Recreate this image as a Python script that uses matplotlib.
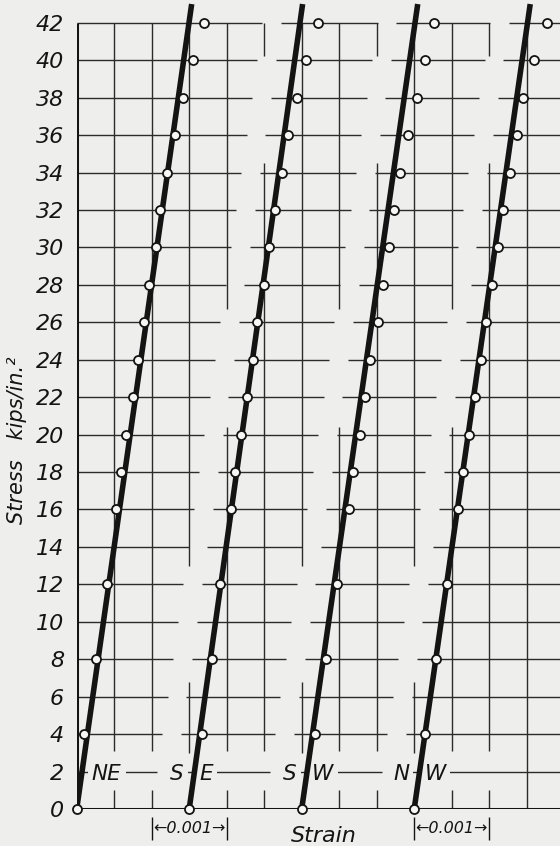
import matplotlib
matplotlib.use('Agg')
import matplotlib.pyplot as plt

# stress levels where readings were taken (kips/in.^2), same for all gauges
stress = [0, 4, 8, 12, 16, 18, 20, 22, 24, 26, 28, 30, 32, 34, 36, 38, 40, 42]

# strain readings, in units of 0.001, each gauge measured from its own zero
strain_ne = [0, 0.101, 0.253, 0.400, 0.524, 0.591, 0.657, 0.747, 0.822, 0.897,
             0.960, 1.057, 1.111, 1.208, 1.311, 1.422, 1.547, 1.701]
strain_se = [0, 0.165, 0.303, 0.413, 0.552, 0.609, 0.685, 0.765, 0.853, 0.907,
             0.996, 1.067, 1.143, 1.232, 1.320, 1.432, 1.552, 1.720]
strain_sw = [0, 0.178, 0.325, 0.472, 0.632, 0.685, 0.783, 0.840, 0.916, 1.019,
             1.080, 1.160, 1.236, 1.316, 1.413, 1.539, 1.649, 1.760]
strain_nw = [0, 0.147, 0.289, 0.436, 0.582, 0.657, 0.737, 0.804, 0.889, 0.960,
             1.036, 1.111, 1.183, 1.271, 1.377, 1.457, 1.591, 1.769]

gauges = ['NE', 'SE', 'SW', 'NW']
strains = [strain_ne, strain_se, strain_sw, strain_nw]
# each curve starts further along the strain axis (x 0.001)
origin_shift = [0, 1.5, 3.0, 4.5]

# straight line drawn through the points: strain (x 0.001) at top stress
line_top_stress = 43
line_top_strain = [1.533, 1.512, 1.547, 1.547]

y_ticks = list(range(0, 43, 2))

BG = '#eeeeec'
INK = '#141414'
GRID = '#2b2b2b'

fig = plt.figure(figsize=(5.6, 8.46), dpi=100, facecolor=BG)
ax = fig.add_axes([76.7 / 560, 37 / 846, 483.3 / 560, 809 / 846])
ax.set_facecolor(BG)
ax.set_xlim(0, 483.3 / 75)
ax.set_ylim(0, 809 / 18.72)
x_max = ax.get_xlim()[1]
for sp in ax.spines.values():
    sp.set_visible(False)


def line_x(i, s):
    return origin_shift[i] + line_top_strain[i] * s / line_top_stress


# horizontal grid, broken just left of the SE, SW and NW lines
for s in y_ticks[1:]:
    cuts = sorted((line_x(i, s) - 0.5, line_x(i, s) - 0.25) for i in (1, 2, 3))
    x0 = 0
    for a, b in cuts:
        ax.hlines(s, x0, a, color=GRID, lw=1.0, zorder=1)
        x0 = b
    ax.hlines(s, x0, x_max, color=GRID, lw=1.0, zorder=1)

# vertical grid every 0.0005, with the draftsman's breaks
for k in range(1, 13):
    xk = k * 0.5
    if k == 12:
        segs = [(0, 42)]
    elif k % 3 == 0:
        segs = [(3.0, 6.8), (13.0, 42)]
    elif k % 3 == 1 and k > 1:
        segs = [(0, 1.0), (3.1, 20.4), (26.7, 42)]
    elif k % 3 == 2 and k > 2:
        segs = [(0, 1.0), (3.1, 34.5), (40.2, 42)]
    else:
        segs = [(0, 1.0), (3.1, 42)]
    for a, b in segs:
        ax.vlines(xk, a, b, color=GRID, lw=1.0, zorder=1)

# axes lines
ax.vlines(0, 0, 42, color=INK, lw=2.2, zorder=3)
ax.hlines(0, 0, x_max, color=INK, lw=2.2, zorder=3)

# curves
for i, xs in enumerate(strains):
    x0 = origin_shift[i]
    ax.plot([x0, x0 + line_top_strain[i]], [0, line_top_stress],
            color=INK, lw=4, solid_capstyle='butt', zorder=4)
    ax.plot([x0 + v for v in xs], stress, 'o', ms=6.5, mfc='#f7f7f5',
            mec=INK, mew=1.3, zorder=5, clip_on=False)

# gauge names on the 2 kip line
lab = dict(fontsize=15.5, style='italic', color=INK, va='baseline', zorder=3,
           bbox=dict(facecolor=BG, edgecolor='none', pad=3))
for i, g in enumerate(gauges):
    lx = line_x(i, 2)
    if i == 0:
        ax.text(lx + 0.13, 1.55, g, ha='left', **lab)
    else:
        ax.text(lx - 0.14, 1.55, g[0], ha='right', **lab)
        ax.text(lx + 0.07, 1.55, g[1], ha='left', **lab)

# y axis
ax.set_yticks(y_ticks)
ax.set_yticklabels([str(v) for v in y_ticks], fontsize=16, style='italic', color=INK)
ax.tick_params(axis='y', length=0, pad=9)
ax.set_xticks([])
fig.text(17 / 560, 1 - 440 / 846, 'Stress   kips/in.\u00b2', rotation=90,
         ha='center', va='center', fontsize=15, style='italic', color=INK)

# strain scale marks under the axis
for a in (1.0, 4.5):
    ax.vlines([a, a + 1.0], -1.66, -0.41, color=INK, lw=1.0, clip_on=False)
    ax.text(a + 0.5, -1.05, '\u21900.001\u2192', ha='center', va='center',
            fontsize=11.5, style='italic', color=INK, clip_on=False)
ax.text(3.29, -1.76, 'Strain', ha='center', va='baseline', fontsize=16,
        style='italic', color=INK, clip_on=False)

fig.savefig('out.png', dpi=100, facecolor=BG)
